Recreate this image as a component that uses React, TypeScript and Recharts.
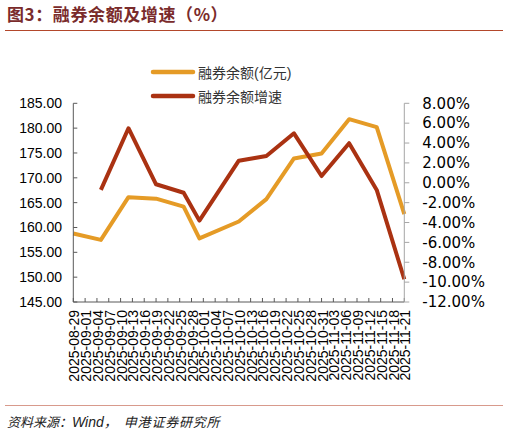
import React from "react";
import { LineChart, Line, XAxis, YAxis } from "recharts";

const pointDates = [
  "2025-08-29", "2025-09-05", "2025-09-12", "2025-09-19", "2025-09-26", "2025-09-30",
  "2025-10-10", "2025-10-17", "2025-10-24", "2025-10-31", "2025-11-07", "2025-11-14", "2025-11-21",
];
const balance = [158.8, 157.5, 166.1, 165.8, 164.2, 157.8, 161.2, 165.7, 173.9, 174.9, 181.8, 180.2, 162.7];
const growth = [null, -0.72, 5.49, -0.15, -1.0, -3.81, 2.22, 2.7, 4.98, 0.68, 3.98, -0.72, -9.71];

const tickDates = [
  "2025-08-29", "2025-09-01", "2025-09-04", "2025-09-07", "2025-09-10", "2025-09-13",
  "2025-09-16", "2025-09-19", "2025-09-22", "2025-09-25", "2025-09-28", "2025-10-01",
  "2025-10-04", "2025-10-07", "2025-10-10", "2025-10-13", "2025-10-16", "2025-10-19",
  "2025-10-22", "2025-10-25", "2025-10-28", "2025-10-31", "2025-11-03", "2025-11-06",
  "2025-11-09", "2025-11-12", "2025-11-15", "2025-11-18", "2025-11-21",
];
const leftTicks = [145, 150, 155, 160, 165, 170, 175, 180, 185];
const rightTicks = [-12, -10, -8, -6, -4, -2, 0, 2, 4, 6, 8];

const seriesNames = ["融券余额(亿元)", "融券余额增速"];
const title = "图3：融券余额及增速（%）";
const sourceLabel = "资料来源：";
const sourceOrg = "Wind，";
const sourceInst = "申港证券研究所";

const ORANGE = "#E59B26";
const RED = "#AA3212";

const baseDay = Date.UTC(2025, 7, 29);
const toDay = (s: string) => {
  const [y, m, d] = s.split("-").map(Number);
  return Math.round((Date.UTC(y, m - 1, d) - baseDay) / 86400000);
};
const dayToLabel: Record<number, string> = {};
tickDates.forEach((t) => (dayToLabel[toDay(t)] = t));
const xTicks = tickDates.map(toDay);

const data = pointDates.map((d, i) => ({
  day: toDay(d),
  balance: balance[i],
  growth: growth[i],
}));

const XTick = (props: any) => {
  const { x, y, payload } = props;
  return (
    <text
      x={x + 1}
      y={y}
      transform={`rotate(-90, ${x + 1}, ${y})`}
      textAnchor="end"
      dy="0.36em"
      fontSize={14}
      fontFamily="'Liberation Sans', Arial, sans-serif"
      fill="#000"
    >
      {dayToLabel[payload.value] ?? ""}
    </text>
  );
};

const LegendBlock = () => (
  <div style={{ position: "absolute", left: 150, top: 62, width: 200, height: 50 }}>
    {seriesNames.map((n, i) => (
      <div
        key={n}
        style={{ position: "absolute", left: 0, top: i * 24, height: 20, display: "flex", alignItems: "center" }}
      >
        <svg width={46} height={10} style={{ display: "block" }}>
          <line x1={3} y1={5} x2={43} y2={5} stroke={i === 0 ? ORANGE : RED} strokeWidth={4.5} strokeLinecap="round" />
        </svg>
        <span
          style={{
            marginLeft: 2,
            fontSize: 14,
            color: "#333",
            fontFamily: "'Liberation Sans', 'Noto Sans CJK SC', sans-serif",
            whiteSpace: "nowrap",
          }}
        >
          {n}
        </span>
      </div>
    ))}
  </div>
);

export default function App() {
  return (
    <div style={{ position: "absolute", left: 0, top: 0, width: 509, height: 434, background: "#fff", overflow: "hidden" }}>
      <div
        style={{
          position: "absolute",
          left: 7,
          top: 4,
          fontSize: 17,
          lineHeight: "20px",
          fontWeight: 700,
          letterSpacing: 0.6,
          color: "#7A2B2B",
          fontFamily: "'Noto Sans CJK SC', sans-serif",
          whiteSpace: "nowrap",
        }}
      >
        {title}
      </div>
      <div style={{ position: "absolute", left: 5, top: 29.5, width: 498, height: 1.5, background: "#B3472B" }} />
      <div style={{ position: "absolute", left: 0, top: 0 }}>
        <LineChart
          width={509}
          height={434}
          data={data}
          margin={{ top: 103.3, right: 0, left: 0, bottom: 72 }}
        >
          <XAxis
            dataKey="day"
            type="number"
            domain={[0, 84]}
            ticks={xTicks}
            interval={0}
            height={60}
            tickSize={-4}
            tickMargin={12}
            tick={<XTick />}
            axisLine={{ stroke: "#595959", strokeWidth: 1 }}
            tickLine={{ stroke: "#595959", strokeWidth: 1 }}
          />
          <YAxis
            yAxisId="left"
            orientation="left"
            width={73.3}
            domain={[145, 185]}
            ticks={leftTicks}
            interval={0}
            tickSize={-4}
            tickMargin={15.3}
            tickFormatter={(v: number) => v.toFixed(2)}
            tick={{ fontSize: 14, fill: "#000", fontFamily: "'Liberation Sans', Arial, sans-serif" }}
            axisLine={{ stroke: "#595959", strokeWidth: 1 }}
            tickLine={{ stroke: "#595959", strokeWidth: 1 }}
          />
          <YAxis
            yAxisId="right"
            orientation="right"
            width={104.7}
            domain={[-12, 8]}
            ticks={rightTicks}
            interval={0}
            tickSize={5}
            tickMargin={13}
            tickFormatter={(v: number) => `${v.toFixed(2)}%`}
            tick={{ fontSize: 15, fill: "#000", fontFamily: "'DejaVu Sans', sans-serif" }}
            axisLine={{ stroke: "#A6A6A6", strokeWidth: 1 }}
            tickLine={{ stroke: "#A6A6A6", strokeWidth: 1 }}
          />
          <Line
            yAxisId="left"
            dataKey="balance"
            name={seriesNames[0]}
            stroke={ORANGE}
            strokeWidth={4}
            dot={false}
            activeDot={false}
            isAnimationActive={false}
            strokeLinejoin="round"
          />
          <Line
            yAxisId="right"
            dataKey="growth"
            name={seriesNames[1]}
            stroke={RED}
            strokeWidth={4}
            dot={false}
            activeDot={false}
            isAnimationActive={false}
            strokeLinejoin="round"
          />
        </LineChart>
      </div>
      <LegendBlock />
      <div style={{ position: "absolute", left: 5, top: 404.5, width: 498, height: 1.5, background: "#D89A8C" }} />
      <div
        style={{
          position: "absolute",
          left: 7,
          top: 413,
          fontSize: 13,
          lineHeight: "18px",
          fontStyle: "italic",
          color: "#222",
          fontFamily: "'Liberation Sans', 'Noto Sans CJK SC', sans-serif",
          whiteSpace: "nowrap",
        }}
      >
        <span>{sourceLabel}</span>
        <span style={{ fontSize: 14 }}>{sourceOrg}</span>
        <span style={{ marginLeft: 6, letterSpacing: 0.8 }}>{sourceInst}</span>
      </div>
    </div>
  );
}
